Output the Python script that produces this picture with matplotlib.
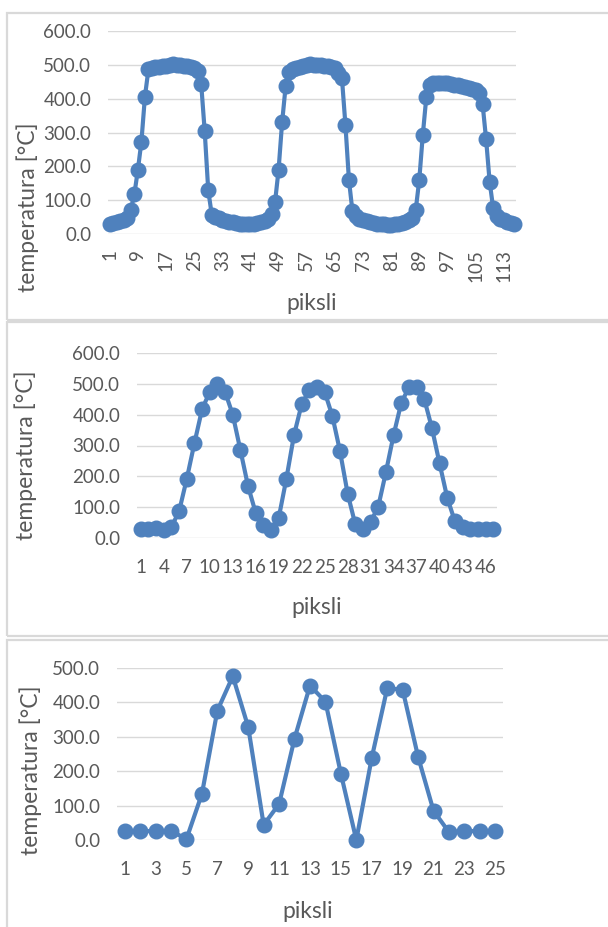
import numpy as np
import matplotlib
matplotlib.use("Agg")
import matplotlib.pyplot as plt
from matplotlib.patches import Rectangle

plt.rcParams['font.family'] = ['Lato', 'DejaVu Sans']

# panel 1: 116 pixels
temp1 = [30, 32, 35, 38, 42, 48, 72, 118, 190, 273,
         406, 487, 490, 493, 495, 497, 498, 500, 502, 500,
         499, 498, 497, 495, 490, 483, 443, 303, 129, 57,
         50, 46, 42, 39, 36, 34, 32, 31, 30, 30,
         30, 31, 32, 34, 38, 45, 58, 95, 190, 330,
         436, 480, 488, 492, 495, 497, 499, 502, 500, 499,
         499, 498, 497, 495, 490, 475, 462, 323, 160, 67,
         52, 45, 40, 37, 35, 33, 31, 30, 29, 28,
         28, 29, 30, 32, 35, 40, 47, 72, 160, 293,
         404, 440, 445, 447, 447, 446, 445, 443, 441, 439,
         437, 435, 432, 429, 425, 418, 384, 280, 155, 77,
         52, 45, 40, 36, 33, 31]

# panel 2: 47 pixels
temp2 = [28, 28, 34, 27, 36, 87, 192, 308, 418, 474,
         500, 474, 400, 285, 168, 81, 41, 27, 65, 192,
         334, 434, 480, 489, 474, 396, 282, 144, 44, 30,
         52, 102, 214, 334, 438, 489, 489, 451, 357, 242,
         131, 54, 36, 28, 28, 28, 28]

# panel 3: 25 pixels
temp3 = [26, 26, 26, 26, 3, 134, 376, 476, 328, 44,
         105, 295, 449, 402, 193, 0, 239, 441, 437, 242,
         85, 23, 26, 26, 26]

W, H = 608, 927
fig = plt.figure(figsize=(W / 100, H / 100), dpi=100)
fig.patch.set_facecolor('white')

blue = '#4F81BD'
grey_txt = '#595959'
grid_c = '#d9d9d9'


def fr(x0, y0, x1, y1):
    # pixel box (top-left origin) -> figure fraction rect
    return [x0 / W, 1 - y1 / H, (x1 - x0) / W, (y1 - y0) / H]


# panel frames
for (y0, y1) in [(13, 320), (322, 636), (640, 932)]:
    fig.add_artist(Rectangle((7 / W, 1 - y1 / H), 1.0, (y1 - y0) / H,
                             transform=fig.transFigure, fill=False,
                             edgecolor=grid_c, linewidth=1.6))

panels = [
    (temp1, fr(108, 31, 516, 234), 600, 8, 90, (28, 207), (312, 303)),
    (temp2, fr(137, 353, 497, 538), 600, 3, 0, (26, 455), (317, 607)),
    (temp3, fr(117, 668, 503, 840), 500, 2, 0, (31, 770), (308, 912)),
]

for vals, rect, ymax, step, rot, ylab_xy, xlab_xy in panels:
    ax = fig.add_axes(rect)
    n = len(vals)
    x = np.arange(1, n + 1)
    ax.plot(x, vals, color=blue, linewidth=3.0, marker='o',
            markersize=10.5, zorder=3, clip_on=False)
    ax.set_xlim(0.5, n + 0.5)
    ax.set_ylim(0, ymax)
    ax.set_yticks(np.arange(0, ymax + 1, 100))
    ax.set_yticklabels([f'{v:.1f}' for v in np.arange(0, ymax + 1, 100)])
    ax.set_xticks(x[::step])
    ax.set_xticklabels([str(v) for v in x[::step]], rotation=rot)
    ax.grid(axis='y', color=grid_c, linewidth=1.0)
    ax.set_axisbelow(True)
    for s in ax.spines.values():
        s.set_visible(False)
    ax.tick_params(length=0, labelsize=13.5, colors=grey_txt)
    ax.tick_params(axis='y', pad=12)
    ax.tick_params(axis='x', pad=15 if rot == 0 else 11)
    fig.text(ylab_xy[0] / W, 1 - ylab_xy[1] / H, 'temperatura [°C]',
             rotation=90, ha='center', va='center', fontsize=16.5,
             color=grey_txt)
    fig.text(xlab_xy[0] / W, 1 - xlab_xy[1] / H, 'piksli',
             ha='center', va='center', fontsize=16.5, color=grey_txt)

fig.savefig('out.png', dpi=100, facecolor='white')
